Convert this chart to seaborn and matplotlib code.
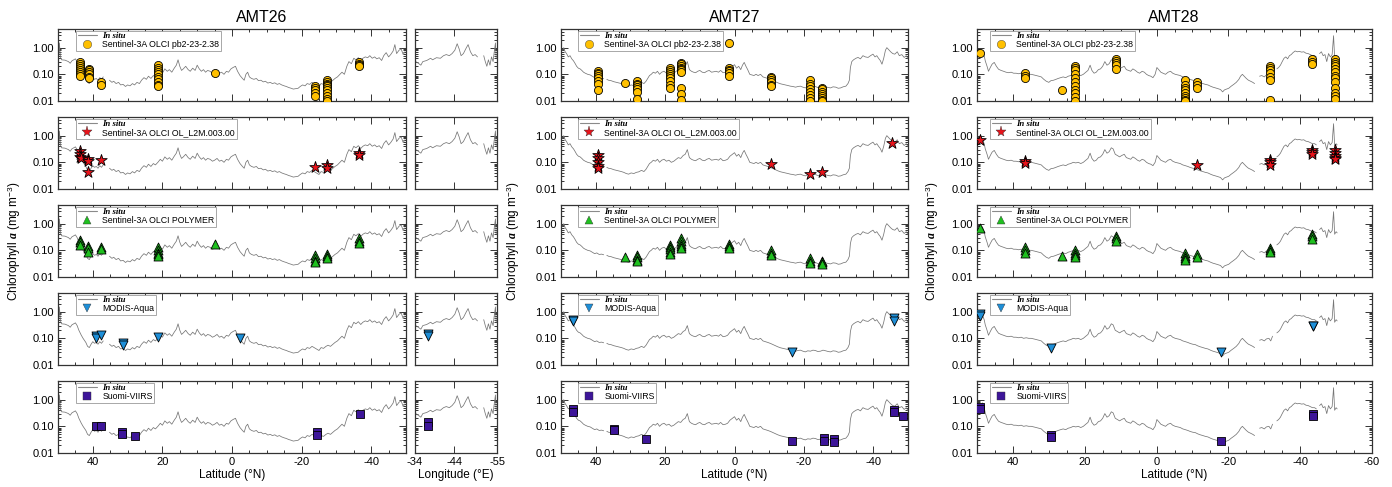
import numpy as np
import pandas as pd
import matplotlib
matplotlib.use("Agg")
import matplotlib.pyplot as plt
import seaborn as sns
from matplotlib.lines import Line2D
from matplotlib.ticker import FixedLocator, FixedFormatter, MultipleLocator, LogLocator, NullFormatter

# ---------------------------------------------------------------- in situ transects
NAN = np.nan
A26_LAT = [49.8, 49.6, 49.3, 49.0, 48.0, 47.0, 46.5, 46.0, 45.0, 44.5, 44.0, 43.3, 42.8, 42.0, 41.5,
           41.0, 40.5, 40.0, 39.5, 39.0, 38.5, 38.0, 37.5, 37.0, 36.0, 35.2, 34.5, 34.0, 33.3, 32.6,
           32.0, 31.3, 30.6, 30.0, 29.3, 28.6, 28.0, 27.3, 26.6, 26.0, 25.3, 24.6, 24.0, 23.3, 22.6,
           22.0, 21.3, 20.6, 20.0, 19.3, 18.6, 18.0, 17.3, 16.6, 16.0, 15.5, 15.0, 14.5, 14.0, 13.3,
           12.6, 12.0, 11.3, 10.6, 10.0, 9.4, 8.8, 8.2, 7.6, 7.0, 6.3, 5.6, 5.0, 4.3, 3.6, 3.0, 2.3,
           1.6, 1.0, 0.3, -0.3, -1.0, -1.6, -2.3, -3.0, -3.5, -4.0, -4.5, -5.0, -5.6, -6.3, -7.0,
           -7.6, -8.3, -9.0, -9.6, -10.3, -11.0, -11.6, -12.3, -13.0, -13.6, -14.3, -15.0, -15.6,
           -16.3, -17.0, -17.6, -18.3, -19.0, -19.6, -20.3, -21.0, -21.6, -22.3, -23.0, -23.6, -24.3,
           -25.0, -25.6, -26.3, -27.0, -27.6, -28.3, -29.0, -29.6, -30.3, -31.0, -31.6, -32.3, -33.0,
           -33.6, -34.3, -35.0, -35.6, -36.3, -37.0, -37.6, -38.3, -39.0, -39.6, -40.3, -41.0, -41.6,
           -42.3, -43.0, -43.6, -44.3, -45.0, -45.6, -46.3, -46.8, -47.3, -48.0, -48.6, -49.2, -49.7]
A26_CHL = [0.45, 1.5, 0.45, 0.35, 0.34, 0.30, 0.26, 0.32, 0.38, 0.30, 0.20, 0.13, 0.10, 0.07, 0.05,
           0.045, 0.06, 0.075, 0.065, 0.07, 0.06, 0.075, 0.065, 0.08, NAN, 0.06, 0.05, 0.055, 0.045, 0.05,
           0.04, 0.042, 0.035, 0.04, 0.037, 0.045, 0.04, 0.05, 0.045, 0.06, 0.075, 0.065, 0.085, 0.07, 0.09,
           0.08, 0.10, 0.13, 0.11, 0.16, 0.13, 0.15, 0.12, 0.17, 0.22, 0.35, 0.20, 0.14, 0.16, 0.20,
           0.15, 0.13, 0.17, 0.14, 0.22, 0.16, 0.13, 0.15, 0.12, 0.14, 0.13, 0.11, 0.12, 0.14, 0.11, 0.12, 0.10,
           0.13, 0.12, 0.16, 0.18, 0.20, 0.13, 0.09, 0.07, 0.06, 0.10, 0.12, 0.08, 0.07, 0.065, 0.07,
           0.058, 0.06, 0.052, 0.055, 0.047, 0.05, 0.045, 0.048, 0.042, 0.045, 0.04, 0.037, 0.035,
           0.032, 0.03, 0.028, 0.029, 0.03, 0.035, 0.04, 0.037, 0.045, 0.042, 0.05, 0.045, 0.04,
           0.035, 0.045, 0.042, 0.05, 0.055, 0.05, 0.06, 0.07, 0.08, 0.10, 0.12, 0.10, 0.20,
           0.30, 0.25, 0.40, 0.35, 0.42, 0.33, 0.40, 0.45, 0.42, 0.50, 0.40, 0.45, 0.38,
           0.42, 0.33, 0.50, 0.65, 0.45, 0.55, 0.75, 1.3, 0.60, 0.80, 0.90, 0.55, 0.70]

A26_LON = [-34.2, -35.0, -35.5, -36.0, -37.0, -38.0, -38.5, -39.5, -40.5, -41.3, -42.0, -42.8, -43.5,
           -44.2, -44.8, -45.3, -45.8, -46.4, -47.0, -47.6, -48.2, -48.8, -49.4, -50.0, -50.8, -51.6,
           -52.0, -52.4, -52.8, -53.2, -53.6, -54.0, -54.3, -54.6, -54.8]
A26_LON_CHL = [0.30, 0.25, 0.22, 0.30, 0.33, 0.40, 0.35, 0.42, 0.40, 0.50, 0.55, 0.50, 0.60,
               0.80, 1.4, 0.90, 0.50, 0.60, 0.90, 1.3, 0.70, 0.50, 0.55, 0.45, NAN, 0.50,
               0.30, 0.20, 0.35, 0.22, 0.45, 0.30, 0.70, 1.5, 0.40]

A27_LAT = [49.5, 49.2, 48.8, 48.4, 47.9, 47.4, 46.9, 46.4, 45.9, 45.5, 45.0, 44.5, 44.0, 43.5, 43.0,
           42.3, 41.6, 41.0, 40.3, 39.7, 39.0, 38.3, 37.7, 37.3, 36.8, 36.3, 35.6, 34.8, 34.0, 33.4,
           32.6, 31.9, 31.2, 30.5, 29.8, 29.0, 28.3, 27.6, 26.8, 26.1, 25.5, 25.0, 24.5, 24.0, 23.4,
           22.8, 22.2, 21.6, 21.0, 20.3, 19.6, 18.9, 18.2, 17.5, 16.8, 16.2, 15.5, 14.8, 14.2, 13.6,
           13.0, 12.4, 11.8, 11.2, 10.6, 10.0, 9.3, 8.6, 8.0, 7.3, 6.6, 6.0, 5.3, 4.6, 4.0, 3.3,
           2.6, 2.0, 1.3, 0.6, 0.0, -0.6, -1.2, -1.8, -2.3, -2.8, -3.3, -3.8, -4.4, -5.0, -5.6,
           -6.2, -6.8, -7.5, -8.2, -8.9, -9.6, -10.4, -11.1, -11.8, -12.5, -13.3, -14.0, -14.7,
           -15.4, -16.1, -16.8, -17.6, -18.3, -19.0, -19.7, -20.4, -21.1, -21.9, -22.6, -23.3,
           -24.0, -24.8, -25.5, -26.3, -27.0, -27.7, -28.4, -29.2, -29.9, -30.6, -31.3, -32.1,
           -32.7, -33.1, -33.4, -33.8, -34.3, -35.0, -35.6, -36.3, -37.0, -37.7, -38.5, -39.2,
           -39.9, -40.5, -41.0, -41.5, -42.0, -42.5, -43.0, -43.5, -43.9, -44.4, -45.0, -45.6,
           -46.2, -46.9, -47.5, -48.2, -48.9, -49.5, -50.1]
A27_CHL = [0.80, 1.0, 0.70, 0.60, 0.45, 0.50, 0.38, 0.32, 0.25, 0.20, 0.17, 0.16, 0.14, 0.12, 0.11,
           0.10, 0.095, 0.085, 0.075, 0.08, 0.07, 0.072, 0.068, NAN, 0.065, 0.06, 0.058, 0.053, 0.05, 0.048,
           0.045, 0.042, 0.038, 0.036, 0.04, 0.038, 0.042, 0.044, 0.05, 0.045, 0.055, 0.07, 0.09, 0.10, 0.12,
           0.11, 0.13, 0.10, 0.12, 0.13, 0.11, 0.12, 0.10, 0.11, 0.13, 0.15, 0.14, 0.18, 0.20, 0.30,
           0.15, 0.13, 0.12, 0.115, 0.13, 0.14, 0.12, 0.115, 0.13, 0.14, 0.12, 0.125, 0.13, 0.12, 0.14, 0.115,
           0.12, 0.13, 0.17, 0.20, 0.23, 0.17, 0.20, 0.15, 0.22, 0.28, 0.20, 0.15, 0.10, 0.095, 0.09,
           0.10, 0.09, 0.10, 0.08, 0.075, 0.07, 0.064, 0.058, 0.053, 0.048, 0.044, 0.042, 0.04,
           0.038, 0.036, 0.035, 0.033, 0.035, 0.036, 0.033, 0.031, 0.034, 0.033, 0.036, 0.035,
           0.032, 0.033, 0.036, 0.034, 0.032, 0.031, 0.034, 0.033, 0.030, 0.031, 0.034, 0.036,
           0.045, 0.06, 0.18, 0.30, 0.35, 0.40, 0.43, 0.38, 0.50, 0.45, 0.43, 0.50,
           0.57, 0.45, 0.50, 0.40, 0.33, 0.24, 0.40, 0.80, 1.0, 0.85, 0.70, 0.60,
           0.57, 0.70, 0.50, 0.55, 0.43, 0.50, 0.37]

A28_LAT = [48.9, 48.5, 48.0, 47.7, 47.2, 46.8, 46.3, 45.8, 45.2, 44.6, 44.0, 43.3, 42.6, 41.9, 41.2,
           40.5, 39.8, 39.1, 38.4, 37.7, 37.0, 36.3, 35.6, 34.9, 34.2, 33.5, 32.8, 32.1, 31.4, 30.7,
           30.0, 29.4, 28.7, 28.0, 27.4, 26.7, 26.0, 25.3, 24.6, 23.9, 23.2, 22.5, 21.8, 21.1, 20.4,
           19.7, 19.1, 18.5, 18.0, 17.4, 16.8, 16.2, 15.6, 15.0, 14.4, 13.8, 13.2, 12.6, 12.1, 11.5,
           10.9, 10.3, 9.7, 9.0, 8.4, 7.8, 7.2, 6.6, 5.9, 5.3, 4.7, 4.0, 3.4, 2.8, 2.2, 1.6, 1.0,
           0.4, -0.1, -0.6, -1.2, -1.8, -2.5, -3.2, -3.9, -4.5, -5.2, -5.9, -6.6, -7.3, -8.0, -8.7,
           -9.4, -10.1, -10.8, -11.5, -12.2, -12.9, -13.6, -14.3, -15.0, -15.7, -16.4, -17.1, -17.8,
           -18.4, -18.9, -19.5, -20.1, -20.8, -21.5, -22.2, -22.9, -23.4, -23.9, -24.4, -25.0, -25.6,
           -26.2, -26.8, -27.3, -28.0, -28.7, -29.3, -30.0, -30.6, -31.3, -31.8, -32.3, -33.0, -33.5,
           -34.0, -34.5, -35.0, -35.5, -36.0, -36.5, -37.0, -37.5, -38.0, -38.6, -39.2, -39.8, -40.4,
           -41.0, -41.6, -42.2, -42.8, -43.4, -44.0, -44.5, -45.0, -45.4, -45.9, -46.4, -46.9, -47.4,
           -47.9, -48.4, -48.9, -49.3, -49.6, -50.0, -50.3]
A28_CHL = [0.57, 0.76, 0.50, 0.32, 0.20, 0.13, 0.18, 0.24, 0.28, 0.20, 0.155, 0.14, 0.13, 0.12, 0.115,
           0.12, 0.11, 0.11, 0.105, 0.11, 0.10, 0.105, 0.10, 0.10, 0.095, 0.09, 0.085, 0.08, 0.065, 0.055,
           0.05, 0.058, 0.06, 0.065, 0.07, 0.075, 0.08, 0.075, 0.085, 0.09, 0.10, 0.095, 0.10, 0.09, 0.10,
           0.12, 0.14, 0.22, 0.14, 0.11, 0.12, 0.15, 0.16, 0.20, 0.30, 0.22, 0.25, 0.35, 0.32, 0.20,
           0.18, 0.16, 0.18, 0.20, 0.15, 0.14, 0.13, 0.16, 0.14, 0.12, 0.11, 0.13, 0.12, 0.10, 0.09, 0.085, 0.075,
           0.10, 0.18, 0.15, 0.12, 0.11, 0.10, 0.12, 0.13, 0.11, 0.10, 0.095, 0.09, 0.08, 0.075, 0.07,
           0.064, 0.06, 0.058, 0.052, 0.048, 0.045, 0.042, 0.04, 0.036, 0.033, 0.031, 0.029, 0.027,
           0.022, 0.026, 0.028, 0.03, 0.036, 0.042, 0.05, 0.064, 0.085, 0.10, 0.085, 0.07, 0.06,
           0.055, 0.05, 0.045, NAN, 0.085, 0.09, 0.08, 0.095, 0.10, 0.08, 0.12, NAN, 0.16,
           0.18, 0.22, 0.30, 0.40, 0.45, 0.38, 0.50, 0.55, 0.65, 0.75, 0.70, 0.72, 0.68,
           0.70, 0.62, 0.60, 0.55, 0.50, 0.50, 0.45, NAN, 0.60, 0.70, 0.50, 0.55, 0.30,
           0.60, 0.45, 0.55, 2.8, 0.40, 0.50, 0.45]

# ---------------------------------------------------------------- satellite match-ups, AMT26
A26_PB2_LAT = [43.6, 43.6, 43.6, 43.6, 43.6, 43.6, 43.6, 43.6, 41.2, 41.2, 41.2, 41.2, 41.2, 41.2,
               37.7, 37.7, 21.4, 21.4, 21.4, 21.4, 21.4, 21.4, 21.4, 21.4, 21.4, 21.4, 5.0,
               -23.8, -23.8, -23.8, -23.8, -23.8, -27.3, -27.3, -27.3, -27.3, -27.3, -27.3, -27.3,
               -27.3, -27.3, -27.3, -27.3, -36.4, -36.4, -36.4, -36.4]
A26_PB2_CHL = [0.30, 0.25, 0.20, 0.17, 0.14, 0.12, 0.10, 0.09, 0.16, 0.14, 0.12, 0.10, 0.08, 0.07,
               0.05, 0.04, 0.22, 0.18, 0.15, 0.12, 0.10, 0.08, 0.065, 0.05, 0.04, 0.035, 0.11,
               0.035, 0.03, 0.025, 0.02, 0.016, 0.06, 0.05, 0.045, 0.04, 0.035, 0.03, 0.025,
               0.02, 0.015, 0.012, 0.01, 0.30, 0.25, 0.22, 0.20]
A26_L2M_LAT = [43.8, 43.8, 43.8, 43.5, 41.4, 41.4, 41.4, 37.7, -23.8, -27.3, -27.3, -36.4, -36.4]
A26_L2M_CHL = [0.26, 0.20, 0.16, 0.14, 0.13, 0.11, 0.043, 0.12, 0.064, 0.077, 0.06, 0.23, 0.19]
A26_POL_LAT = [43.8, 43.8, 43.8, 41.4, 41.4, 41.4, 37.7, 37.7, 21.4, 21.4, 21.4, 21.4, 21.4, 5.0,
               -23.8, -23.8, -23.8, -23.8, -27.3, -27.3, -27.3, -36.4, -36.4, -36.4]
A26_POL_CHL = [0.25, 0.20, 0.16, 0.14, 0.12, 0.09, 0.13, 0.11, 0.13, 0.10, 0.08, 0.07, 0.06, 0.17,
               0.065, 0.05, 0.04, 0.035, 0.075, 0.06, 0.05, 0.28, 0.22, 0.19]
A26_MOD_LAT = [39.0, 39.0, 37.7, 31.4, 31.4, 21.3, -2.3]
A26_MOD_CHL = [0.12, 0.10, 0.13, 0.065, 0.055, 0.11, 0.10]
A26_VII_LAT = [39.0, 37.7, 31.5, 31.5, 28.0, -24.3, -24.3, -36.8]
A26_VII_CHL = [0.105, 0.10, 0.06, 0.053, 0.042, 0.059, 0.048, 0.28]
A26_MOD_LON = [-37.3, -37.3]
A26_MOD_LON_CHL = [0.14, 0.12]
A26_VII_LON = [-37.3, -37.3]
A26_VII_LON_CHL = [0.15, 0.105]

# ---------------------------------------------------------------- satellite match-ups, AMT27
A27_PB2_LAT = [39.4, 39.4, 39.4, 39.4, 39.4, 39.4, 39.4, 39.4, 31.6, 28.1, 28.1, 28.1, 28.1, 28.1,
               28.1, 28.1, 18.7, 18.7, 18.7, 18.7, 18.7, 18.7, 18.7, 18.7, 18.7, 15.5, 15.5, 15.5,
               15.5, 15.5, 15.5, 15.5, 15.5, 15.5, 15.5, 1.5, 1.5, 1.5, 1.5, 1.5, 1.5,
               -10.6, -10.6, -10.6, -10.6, -10.6, -10.6, -21.9, -21.9, -21.9, -21.9, -21.9, -21.9,
               -21.9, -21.9, -25.1, -25.1, -25.1, -25.1, -25.1, -25.1, -25.1, -25.1]
A27_PB2_CHL = [0.13, 0.11, 0.10, 0.085, 0.07, 0.055, 0.045, 0.025, 0.047, 0.055, 0.045, 0.04, 0.033,
               0.028, 0.022, 0.012, 0.17, 0.14, 0.12, 0.10, 0.085, 0.07, 0.055, 0.04, 0.03, 0.27, 0.24,
               0.21, 0.18, 0.16, 0.14, 0.12, 0.03, 0.018, 0.011, 1.5, 0.18, 0.15, 0.13, 0.11, 0.09,
               0.08, 0.07, 0.06, 0.05, 0.04, 0.035, 0.06, 0.045, 0.035, 0.028, 0.022, 0.017,
               0.013, 0.01, 0.03, 0.027, 0.022, 0.018, 0.015, 0.013, 0.011, 0.01]
A27_L2M_LAT = [39.4, 39.4, 39.4, 39.4, 39.4, -10.6, -21.9, -25.1, -45.4]
A27_L2M_CHL = [0.19, 0.14, 0.10, 0.07, 0.06, 0.086, 0.037, 0.045, 0.54]
A27_POL_LAT = [31.6, 28.1, 28.1, 28.1, 28.1, 18.7, 18.7, 18.7, 18.7, 18.7, 15.5, 15.5, 15.5, 15.5,
               15.5, 1.5, 1.5, 1.5, -10.6, -10.6, -10.6, -21.9, -21.9, -21.9, -25.1, -25.1, -25.1]
A27_POL_CHL = [0.054, 0.065, 0.055, 0.045, 0.04, 0.16, 0.13, 0.11, 0.09, 0.075, 0.28, 0.22, 0.18,
               0.15, 0.12, 0.17, 0.14, 0.12, 0.10, 0.08, 0.065, 0.05, 0.04, 0.033, 0.04, 0.035, 0.03]
A27_MOD_LAT = [46.6, 46.6, -16.7, -45.9, -45.9]
A27_MOD_CHL = [0.50, 0.44, 0.032, 0.60, 0.44]
A27_VII_LAT = [46.4, 46.4, 34.8, 34.8, 25.4, -16.6, -25.8, -25.8, -28.6, -28.6, -45.9, -45.9, -48.6]
A27_VII_CHL = [0.43, 0.34, 0.08, 0.07, 0.034, 0.029, 0.036, 0.029, 0.033, 0.026, 0.40, 0.34, 0.24]

# ---------------------------------------------------------------- satellite match-ups, AMT28
A28_PB2_LAT = [49.1, 36.5, 36.5, 36.5, 26.3, 22.6, 22.6, 22.6, 22.6, 22.6, 22.6, 22.6, 22.6, 22.6,
               22.6, 22.6, 11.3, 11.3, 11.3, 11.3, 11.3, -7.8, -7.8, -7.8, -7.8, -7.8, -7.8, -7.8,
               -7.8, -7.8, -11.3, -11.3, -11.3, -31.7, -31.7, -31.7, -31.7, -31.7, -31.7, -31.7,
               -43.3, -43.3, -43.3, -49.6, -49.6, -49.6, -49.6, -49.6, -49.6, -49.6, -49.6, -49.6,
               -49.6, -49.6, -49.6, -49.6]
A28_PB2_CHL = [0.63, 0.11, 0.09, 0.075, 0.025, 0.21, 0.17, 0.14, 0.10, 0.07, 0.05, 0.035, 0.025, 0.02,
               0.014, 0.01, 0.38, 0.32, 0.27, 0.22, 0.16, 0.06, 0.04, 0.03, 0.025, 0.02, 0.016, 0.013,
               0.011, 0.01, 0.05, 0.04, 0.03, 0.21, 0.17, 0.14, 0.11, 0.08, 0.06, 0.011,
               0.38, 0.30, 0.24, 0.38, 0.30, 0.25, 0.20, 0.16, 0.12, 0.09, 0.07, 0.05,
               0.03, 0.02, 0.015, 0.012]
A28_L2M_LAT = [49.1, 36.5, 36.5, -11.3, -31.7, -31.7, -31.7, -43.3, -43.3, -43.3, -49.6, -49.6,
               -49.6, -49.6, -49.6]
A28_L2M_CHL = [0.67, 0.11, 0.095, 0.077, 0.12, 0.10, 0.08, 0.30, 0.24, 0.20, 0.28, 0.22, 0.18,
               0.15, 0.13]
A28_POL_LAT = [49.1, 36.5, 36.5, 36.5, 26.3, 22.6, 22.6, 22.6, 22.6, 11.3, 11.3, 11.3, -7.8, -7.8,
               -7.8, -7.8, -11.3, -11.3, -31.7, -31.7, -31.7, -43.3, -43.3, -43.3]
A28_POL_CHL = [0.70, 0.13, 0.10, 0.08, 0.063, 0.10, 0.08, 0.065, 0.055, 0.34, 0.28, 0.22, 0.08, 0.063,
               0.05, 0.045, 0.07, 0.058, 0.12, 0.10, 0.085, 0.40, 0.33, 0.27]
A28_MOD_LAT = [49.1, 49.1, 29.4, -18.0, -43.6, -43.6]
A28_MOD_CHL = [0.80, 0.70, 0.043, 0.032, 0.30, 0.28]
A28_VII_LAT = [49.1, 49.1, 29.4, 29.4, -18.0, -43.6, -43.6]
A28_VII_CHL = [0.53, 0.43, 0.048, 0.04, 0.029, 0.28, 0.24]

# ---------------------------------------------------------------- labels and styles
CRUISES = ["AMT26", "AMT27", "AMT28"]
SENSOR_LABELS = ["Sentinel-3A OLCI pb2-23-2.38", "Sentinel-3A OLCI OL_L2M.003.00",
                 "Sentinel-3A OLCI POLYMER", "MODIS-Aqua", "Suomi-VIIRS"]
SENSOR_MARKERS = ["o", "*", "^", "v", "s"]
SENSOR_COLORS = ["#FFC000", "#E8131B", "#1FC01F", "#1E8FD8", "#3D1599"]
SENSOR_SIZES = [34, 75, 42, 42, 38]
LAT_TICKS_A = [40, 20, 0, -20, -40]
LAT_TICKS_B = [40, 20, 0, -20, -40, -60]
LON_TICKS = [-34, -44, -55]
Y_TICKS = [0.01, 0.1, 1.0]
Y_TICK_LABELS = ["0.01", "0.10", "1.00"]

sns.set_theme(style="white")
plt.rcParams["font.family"] = ["Liberation Sans", "DejaVu Sans"]
plt.rcParams["mathtext.fontset"] = "custom"
plt.rcParams["mathtext.rm"] = "Liberation Sans"
plt.rcParams["mathtext.it"] = "Liberation Serif:italic:bold"
plt.rcParams["mathtext.bf"] = "Liberation Serif:italic:bold"

W, H = 1392, 487
fig = plt.figure(figsize=(W / 100, H / 100), dpi=100)
fig.patch.set_facecolor("white")

ROW_TOPS = [29, 117, 205, 293, 381]
ROW_H = 72
LINE_COLOR = "#767676"


def add_px_axes(left, right, top):
    return fig.add_axes([left / W, 1 - (top + ROW_H) / H, (right - left) / W, ROW_H / H])


def draw_insitu(ax, x, y):
    yv = np.asarray(y, dtype=float)
    seg = np.cumsum(np.isnan(yv))
    df = pd.DataFrame({"x": x, "y": yv, "seg": seg}).dropna()
    sns.lineplot(data=df, x="x", y="y", units="seg", estimator=None, sort=False,
                 color=LINE_COLOR, lw=0.55, ax=ax, legend=False)


def draw_points(ax, x, y, k):
    if len(x) == 0:
        return
    sns.scatterplot(x=x, y=y, marker=SENSOR_MARKERS[k], s=SENSOR_SIZES[k],
                    color=SENSOR_COLORS[k], edgecolor="black", linewidth=0.6,
                    ax=ax, legend=False, zorder=3)


def style_axes(ax, xlim, xticks, ylabels, xlabels, minor=5):
    ax.set_yscale("log")
    ax.set_ylim(0.01, 5)
    ax.set_xlim(*xlim)
    ax.set_xlabel("")
    ax.set_ylabel("")
    ax.yaxis.set_major_locator(FixedLocator(Y_TICKS))
    ax.yaxis.set_minor_locator(LogLocator(base=10, subs=np.arange(2, 10)))
    ax.yaxis.set_minor_formatter(NullFormatter())
    if ylabels:
        ax.yaxis.set_major_formatter(FixedFormatter(Y_TICK_LABELS))
    else:
        ax.yaxis.set_major_formatter(NullFormatter())
    ax.xaxis.set_major_locator(FixedLocator(xticks))
    if minor:
        ax.xaxis.set_minor_locator(MultipleLocator(minor))
    if xlabels:
        ax.xaxis.set_major_formatter(FixedFormatter([f"{t:g}" for t in xticks]))
    else:
        ax.xaxis.set_major_formatter(NullFormatter())
    ax.tick_params(which="both", direction="in", top=True, right=True, bottom=True, left=True,
                   color="#333333", width=0.7)
    ax.tick_params(which="major", length=5, labelsize=8, pad=3, labelcolor="black")
    ax.tick_params(which="minor", length=2.5)
    ax.grid(False)
    for sp in ax.spines.values():
        sp.set_color("#333333")
        sp.set_linewidth(0.9)
    ax.set_facecolor("white")


def add_legend(ax, k, offset_px, width_px):
    h_line = Line2D([], [], color="#8a8a8a", lw=0.8)
    h_mark = Line2D([], [], ls="none", marker=SENSOR_MARKERS[k],
                    markersize=6 if k != 1 else 8, markerfacecolor=SENSOR_COLORS[k],
                    markeredgecolor="#333333", markeredgewidth=0.3)
    leg = ax.legend([h_line, h_mark], ["In situ", SENSOR_LABELS[k]], loc="upper left",
                    bbox_to_anchor=(offset_px / width_px, 1 - 1.5 / ROW_H), borderaxespad=0,
                    frameon=True, fancybox=False, framealpha=1, edgecolor="#9a9a9a",
                    fontsize=6.3, handlelength=2.2, handletextpad=0.6, labelspacing=-0.05,
                    borderpad=0.2)
    leg.get_frame().set_linewidth(0.6)
    leg.get_texts()[0].set_fontfamily(["Liberation Serif", "DejaVu Serif"])
    leg.get_texts()[0].set_fontstyle("italic")
    leg.get_texts()[0].set_fontweight("bold")
    for t in leg.get_texts():
        t.set_color("black")


cruise_lines = [(A26_LAT, A26_CHL), (A27_LAT, A27_CHL), (A28_LAT, A28_CHL)]
cruise_points = [
    [(A26_PB2_LAT, A26_PB2_CHL), (A26_L2M_LAT, A26_L2M_CHL), (A26_POL_LAT, A26_POL_CHL),
     (A26_MOD_LAT, A26_MOD_CHL), (A26_VII_LAT, A26_VII_CHL)],
    [(A27_PB2_LAT, A27_PB2_CHL), (A27_L2M_LAT, A27_L2M_CHL), (A27_POL_LAT, A27_POL_CHL),
     (A27_MOD_LAT, A27_MOD_CHL), (A27_VII_LAT, A27_VII_CHL)],
    [(A28_PB2_LAT, A28_PB2_CHL), (A28_L2M_LAT, A28_L2M_CHL), (A28_POL_LAT, A28_POL_CHL),
     (A28_MOD_LAT, A28_MOD_CHL), (A28_VII_LAT, A28_VII_CHL)],
]
lon_points = [([], []), ([], []), ([], []), (A26_MOD_LON, A26_MOD_LON_CHL), (A26_VII_LON, A26_VII_LON_CHL)]

# panel geometry in pixels: (left, right), xlim, ticks, legend offset
PANELS = [((58, 406), (50, -50), LAT_TICKS_A, 18),
          ((561, 908), (50, -50), LAT_TICKS_A, 17),
          ((977, 1372), (50, -60), LAT_TICKS_B, 13)]

for c, ((l, r), xlim, xticks, loff) in enumerate(PANELS):
    for k in range(5):
        ax = add_px_axes(l, r, ROW_TOPS[k])
        ax.set_yscale("log")
        draw_insitu(ax, *cruise_lines[c])
        draw_points(ax, *cruise_points[c][k], k)
        style_axes(ax, xlim, xticks, True, k == 4)
        add_legend(ax, k, loff, r - l)
        if k == 4:
            ax.set_xlabel("Latitude (°N)", fontsize=8.5, labelpad=1.5, color="black")

# longitude inset panels next to AMT26
for k in range(5):
    ax = add_px_axes(415, 497, ROW_TOPS[k])
    ax.set_yscale("log")
    draw_insitu(ax, A26_LON, A26_LON_CHL)
    draw_points(ax, *lon_points[k], k)
    style_axes(ax, (-34, -55), LON_TICKS, False, k == 4, minor=0)
    if k == 4:
        ax.set_xlabel("Longitude (°E)", fontsize=8.5, labelpad=1.5, color="black")

# titles and shared y labels
for name, xc in zip(CRUISES, [262, 735, 1174]):
    fig.text(xc / W, 1 - 17 / H, name, ha="center", va="center", fontsize=11.5, color="black")

ylab = r"Chlorophyll $\mathbf{a}$ (mg m$^{\mathrm{-3}}$)"
for xc in [14, 513, 932]:
    fig.text(xc / W, 1 - 241 / H, ylab, rotation=90, ha="center", va="center",
             fontsize=8.5, color="black")

fig.savefig("out.png", dpi=100, facecolor="white")
